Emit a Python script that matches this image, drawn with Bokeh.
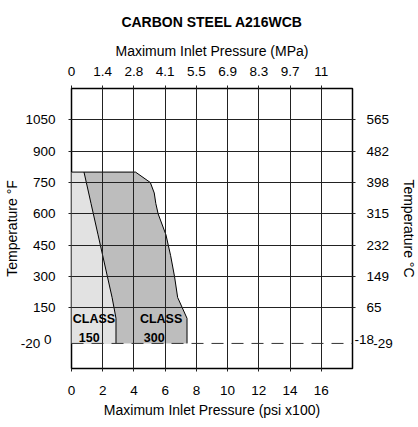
from bokeh.plotting import figure
from bokeh.models import LinearAxis, FixedTicker, Label, Span, Range1d, ColumnDataSource
from bokeh.embed import file_html
from bokeh.resources import INLINE

# ---- data ----
psi_ticks = [0, 2, 4, 6, 8, 10, 12, 14, 16]
mpa_labels = ["0", "1.4", "2.8", "4.1", "5.5", "6.9", "8.3", "9.7", "11"]

temp_f_ticks = [150, 300, 450, 600, 750, 900, 1050]
temp_c_labels = ["65", "149", "232", "315", "398", "482", "565"]
low_f_ticks = [0, -20]
low_f_labels = ["0", "-20\u00a0\u00a0\u00a0"]
low_c_ticks = [0, -20]
low_c_labels = ["-18", "\u00a0\u00a0\u00a0\u00a0\u00a0-29"]

temps = [800, 750, 700, 650, 600, 500, 400, 300, 200, 100, -20]
psi_class150 = [0.8, 0.95, 1.1, 1.25, 1.4, 1.7, 2.0, 2.3, 2.6, 2.85, 2.85]
psi_class300 = [4.1, 5.05, 5.3, 5.4, 5.55, 6.05, 6.35, 6.6, 6.8, 7.4, 7.4]

min_temp = temps[-1]
x_start, x_end = 0, 18
y_start, y_end = -140, 1200

FONT = "Liberation Sans"
DARK = "#222222"

p = figure(frame_width=281, frame_height=280,
           x_range=Range1d(x_start, x_end), y_range=Range1d(y_start, y_end),
           output_backend="svg", toolbar_location=None,
           min_border_left=63, min_border_right=58, min_border_top=88, min_border_bottom=49,
           title="CARBON STEEL A216WCB")
p.title.align = "center"
p.title.text_font = FONT
p.title.text_font_size = "14px"
p.title.text_font_style = "bold"
p.title.text_color = "black"
p.title.standoff = 19

p.background_fill_color = "white"
p.border_fill_color = "white"
p.outline_line_color = "black"
p.outline_line_width = 1.5

# fills
src = ColumnDataSource(dict(t=temps, c150=psi_class150, c300=psi_class300))
p.harea(y="t", x1=x_start, x2="c300", source=src, fill_color="#bdbdbd")
p.harea(y="t", x1=x_start, x2="c150", source=src, fill_color="#e2e2e2")

# outlines
p.line([x_start] + psi_class300, [temps[0]] + temps, line_color="black", line_width=1)
p.line(psi_class150, temps, line_color="black", line_width=1)

# dashed line at minimum temperature
p.add_layout(Span(location=min_temp, dimension="width", line_color="#333333",
                  line_width=1, line_dash="12 8"))

# axes
def style(ax):
    ax.axis_line_color = None
    ax.major_tick_in = 0
    ax.major_tick_out = 3
    ax.major_tick_line_color = DARK
    ax.minor_tick_line_color = None
    ax.major_label_text_font = FONT
    ax.major_label_text_font_size = "13.5px"
    ax.major_label_text_color = "black"
    ax.axis_label_text_font = FONT
    ax.axis_label_text_font_size = "14px"
    ax.axis_label_text_font_style = "normal"
    ax.axis_label_text_color = "black"

bottom = p.xaxis[0]
bottom.ticker = FixedTicker(ticks=psi_ticks)
bottom.axis_label = "Maximum Inlet Pressure (psi x100)"
style(bottom)
bottom.major_label_standoff = 14
bottom.axis_label_standoff = 4

left = p.yaxis[0]
left.ticker = FixedTicker(ticks=temp_f_ticks)
style(left)
left.major_label_standoff = 13

left2 = LinearAxis(ticker=FixedTicker(ticks=low_f_ticks),
                   major_label_overrides=dict(zip(low_f_ticks, low_f_labels)),
                   axis_label="Temperature °F")
style(left2)
left2.major_tick_out = 0
left2.major_tick_line_color = None
left2.major_label_standoff = -29
left2.axis_label_standoff = -2
p.add_layout(left2, "left")

top = LinearAxis(ticker=FixedTicker(ticks=psi_ticks),
                 major_label_overrides=dict(zip(psi_ticks, mpa_labels)),
                 axis_label="Maximum Inlet Pressure (MPa)")
style(top)
top.major_label_standoff = 10
top.axis_label_standoff = 5
p.add_layout(top, "above")

right = LinearAxis(ticker=FixedTicker(ticks=temp_f_ticks),
                   major_label_overrides=dict(zip(temp_f_ticks, temp_c_labels)))
style(right)
right.major_label_standoff = 11
p.add_layout(right, "right")

right2 = LinearAxis(ticker=FixedTicker(ticks=low_c_ticks),
                    major_label_overrides=dict(zip(low_c_ticks, low_c_labels)),
                    axis_label="Temperature °C")
style(right2)
right2.major_tick_out = 0
right2.major_tick_line_color = None
right2.major_label_standoff = -38
right2.axis_label_standoff = 5
p.add_layout(right2, "right")

# grid (follows the inner axes' tickers), drawn above the fills
for g in (p.xgrid[0], p.ygrid[0]):
    g.grid_line_color = DARK
    g.grid_line_width = 1
    g.grid_line_alpha = 1
    g.level = "guide"

# class labels
cl = dict(text_font=FONT, text_color="black", text_baseline="middle", text_align="left",
          text_font_size="12.5px", text_font_style="bold")
p.add_layout(Label(x=0.08, y=97, text="CLASS", **cl))
p.add_layout(Label(x=0.47, y=8, text="150", **cl))
p.add_layout(Label(x=4.38, y=97, text="CLASS", **cl))
p.add_layout(Label(x=4.63, y=8, text="300", **cl))

open("out.html", "w").write(file_html(p, INLINE))
